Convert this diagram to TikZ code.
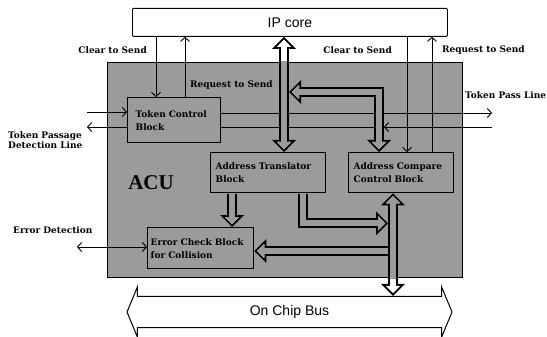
\documentclass[tikz,border=0pt]{standalone}
\usepackage{fontspec}
\setmainfont{Liberation Serif}
\newfontfamily\lblfont{DejaVu Serif}
\newfontfamily\busfont{Liberation Sans}
\usetikzlibrary{positioning, arrows.meta, shapes.arrows}

\definecolor{acugray}{RGB}{155,155,155}

\tikzset{
  block/.style={draw, line width=1.3pt, fill=acugray, anchor=north west,
    align=left, inner ysep=0pt,
    execute at begin node={\hyphenpenalty=10000\relax},
    font=\lblfont\bfseries\fontsize{9}{13}\selectfont},
  lbl/.style={font=\lblfont\bfseries\fontsize{9}{10.5}\selectfont, inner sep=0pt},
  sig/.style={line width=0.9pt, -{Straight Barb[length=4pt, width=9pt]}},
  fatout/.style={line width=10pt, >={Triangle[length=12pt, width=24pt, line width=0pt]}},
  fatin/.style={line width=6pt, >={Triangle[length=7.2pt, width=14.4pt, line width=0pt]}},
}

% hollow (fat) arrows: #1 style, #2 inset of the tips
\newcommand\hollowarrows[2]{%
  \draw[#1, <->, shorten <=#2, shorten >=#2] (ip.south -| busa) -- (busa);
  \draw[#1, <->, shorten <=#2, shorten >=#2] (bl) -| (acct);
  \draw[#1, ->, shorten <=0.7pt, shorten >=#2] (atdn) -- (atdn |- ecb.north);
  \draw[#1, ->, shorten >=#2] (eleft |- ecbr) -- (ecbr);
  \draw[#1, ->, shorten <=0.7pt, shorten >=#2] (atr) |- (eleft |- fy);
  \draw[#1, <->, shorten <=#2, shorten >=#2] (accb) -- (accb |- bus.north);
}

\begin{document}
\begin{tikzpicture}[x=1pt, y=-1pt]
  \useasboundingbox (0,0) rectangle (547,337);

  % ACU and IP core
  \node[draw, line width=1pt, fill=acugray, anchor=north west, inner sep=0pt,
    minimum width=355pt, minimum height=215pt] (acu) at (107,62) {};
  \node[font=\bfseries\fontsize{21}{24}\selectfont] (acul) at (151,183) {ACU};
  \node[draw, line width=0.8pt, rounded corners=1pt, anchor=north west,
    minimum width=315pt, minimum height=28pt,
    font=\busfont\fontsize{14}{16}\selectfont] (ip) at (132,8) {IP core};

  % blocks
  \node[block, inner xsep=8pt, text width=77pt, minimum height=45pt,
    below right=35pt and 20pt of acu.north west] (tcb) {Token Control\\Block};
  \node[block, inner xsep=5pt, text width=105pt, minimum height=40pt,
    below right=90pt and 103pt of acu.north west] (atb) {Address Translator\\Block};
  \node[block, inner xsep=5pt, text width=95pt, minimum height=40pt,
    below right=90pt and 241pt of acu.north west] (acc) {Address Compare\\Control Block};
  \node[block, inner xsep=3pt, text width=100pt, minimum height=41pt,
    below right=165pt and 40pt of acu.north west] (ecb) {Error Check Block\\for Collision};

  % on chip bus
  \node[double arrow, draw, line width=1pt, fill=white, inner xsep=0pt, inner ysep=8.5pt,
    minimum height=325pt, minimum width=49pt, double arrow head extend=9.5pt,
    double arrow tip angle=135,
    font=\busfont\fontsize{14}{16}\selectfont] (bus) at (289.5,312) {On Chip Bus};

  % points on the blocks
  \coordinate[right=29pt of tcb.north west] (cts1);
  \coordinate[right=58pt of tcb.north west] (rts1);
  \coordinate[right=59pt of acc.north west] (cts2);
  \coordinate[right=84pt of acc.north west] (rts2);
  \coordinate[below=16pt of tcb.north east] (tpo1);
  \coordinate[below=30pt of tcb.north east] (tpi1);
  \coordinate (tpo2) at (492,113);
  \coordinate (tpi2) at (492,127);
  \coordinate (tdl1) at (87,112);
  \coordinate (tdl2) at (87,127);
  \coordinate (errl) at (77,247);
  \coordinate[right=74pt of atb.north west] (busa);
  \coordinate (bl) at (289,92);
  \coordinate[right=31pt of acc.north west] (acct);
  \coordinate[right=22pt of atb.south west] (atdn);
  \coordinate[right=93pt of atb.south west] (atr);
  \coordinate[below=30pt of atb.south east] (fy);
  \coordinate[right=45pt of acc.south west] (accb);
  \coordinate[left=5pt of accb] (eleft);
  \coordinate[below=24pt of ecb.north east] (ecbr);
  \coordinate[right=5pt of acct] (lcolr);
  \coordinate[left=5pt of acct] (lcoll);

  % signal lines
  \draw[sig] (ip.south -| cts1) -- (cts1);
  \draw[sig] (rts1) -- (ip.south -| rts1);
  \draw[sig] (ip.south -| cts2) -- (cts2);
  \draw[sig] (rts2) -- (ip.south -| rts2);
  \draw[sig] (tpo1) -- (tpo2);
  \draw[sig] (tpi2) -- (tpi2 -| lcolr);
  \draw[line width=0.9pt] (tpi2 -| lcoll) -- (tpi1);
  \draw[sig] (tdl1) -- (tdl1 -| tcb.west);
  \draw[sig] (tcb.west |- tdl2) -- (tdl2);
  \draw[line width=0.9pt, {Straight Barb[length=4pt, width=9pt]}-{Straight Barb[length=4pt, width=9pt]}]
    (errl) -- (errl -| ecb.west);

  % fat arrows
  \hollowarrows{fatout}{0pt}
  \hollowarrows{fatin, white}{2.8pt}
  \begin{scope}
    \clip (acu.north west) rectangle (acu.south east);
    \hollowarrows{fatin, acugray}{2.8pt}
  \end{scope}

  % labels
  \node[lbl, anchor=east] (cts1l) at (147,50) {Clear to Send};
  \node[lbl, anchor=west] (rts1l) at (190,85) {Request to Send};
  \node[lbl, anchor=east] (cts2l) at (392,50) {Clear to Send};
  \node[lbl, anchor=west] (rts2l) at (442,50) {Request to Send};
  \node[lbl, anchor=west] (tpl) at (465,95) {Token Pass Line};
  \node[lbl, anchor=west, align=left] (tdl) at (8,140) {Token Passage\\Detection Line};
  \node[lbl, anchor=west] (errlb) at (13,230) {Error Detection};
\end{tikzpicture}
\end{document}
